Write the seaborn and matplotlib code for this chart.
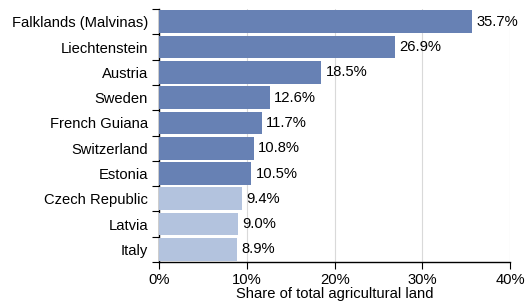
import seaborn as sns
from matplotlib import pyplot as plt
import pandas as pd
import numpy as np
import matplotlib.ticker as ticker

countries = ['Falklands (Malvinas)', 'Liechtenstein', 'Austria', 'Sweden', 'French Guiana',
             'Switzerland', 'Estonia', 'Czech Republic', 'Latvia', 'Italy']
share = [35.7, 26.9, 18.5, 12.6, 11.7, 10.8, 10.5, 9.4, 9.0, 8.9]
group = ['top'] * 7 + ['rest'] * 3

sns.set_theme(style='white')
plt.rcParams['font.family'] = ['Liberation Sans', 'DejaVu Sans']

df = pd.DataFrame({'country': countries, 'share': share, 'group': group})

fig = plt.figure(figsize=(5.27, 3.04), dpi=100)
ax = fig.add_axes([0.302, 0.138, 0.666, 0.832])

g = sns.barplot(x='share', y='country', data=df, hue='group',
                palette={'top': '#6781b4', 'rest': '#b3c3de'}, saturation=1,
                width=0.9, linewidth=0, legend=False, ax=ax, zorder=3)

fs = 10.6
for c in ax.containers:
    ax.bar_label(c, fmt='%.1f%%', padding=3, fontsize=fs, color='black')

ax.set_xlim(0, 40)
ax.set_ylim(len(countries) - 0.5, -0.5)
ax.set_xticks([0, 10, 20, 30, 40])
ax.xaxis.set_major_formatter(ticker.FuncFormatter(lambda v, p: '%d%%' % v))
ax.grid(axis='x', color='#d9d9d9', linewidth=0.8, zorder=0)

# category ticks sit between bars
ax.set_yticks(np.arange(-0.5, len(countries), 1), minor=True)
ax.tick_params(axis='y', which='major', length=0, labelsize=fs, pad=8, labelcolor='black')
ax.tick_params(axis='y', which='minor', length=5, width=0.8, color='black', left=True)
ax.tick_params(axis='x', which='major', length=5, width=0.8, color='black', bottom=True,
               labelsize=fs, pad=3, labelcolor='black')

for s in ['top', 'right']:
    ax.spines[s].set_visible(False)
for s in ['left', 'bottom']:
    ax.spines[s].set_color('black')
    ax.spines[s].set_linewidth(1.0)

ax.set_ylabel('')
ax.set_xlabel('Share of total agricultural land', fontsize=fs, labelpad=0, color='black')

plt.savefig('out.png', dpi=100)
